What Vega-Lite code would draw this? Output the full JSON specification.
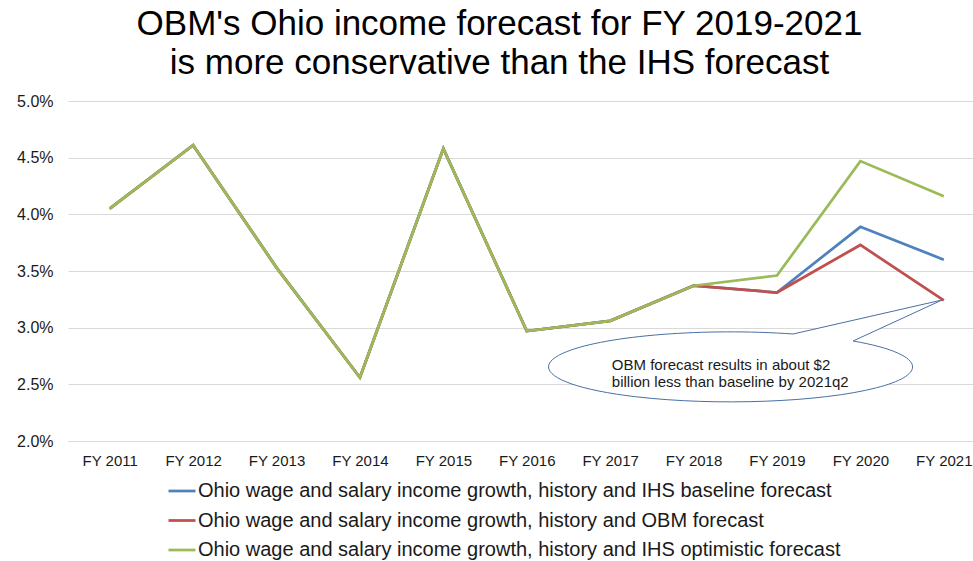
{
  "$schema": "https://vega.github.io/schema/vega-lite/v6.json",
  "autosize": {"type": "none"},
  "width": 905,
  "height": 340,
  "padding": {"left": 68, "top": 101, "right": 0, "bottom": 120},
  "background": "white",
  "config": {
    "view": {"stroke": null},
    "font": "Liberation Sans"
  },
  "title": {
    "text": ["OBM's Ohio income forecast for FY 2019-2021", "is more conservative than the IHS forecast"],
    "fontSize": 35,
    "font": "Liberation Sans",
    "fontWeight": "normal",
    "color": "#000000",
    "anchor": "middle",
    "frame": "group",
    "dx": -21,
    "dy": 42,
    "baseline": "alphabetic",
    "offset": 26,
    "lineHeight": 39
  },
  "datasets": {
    "series": [
      {"year": 2011, "series": "Ohio wage and salary income growth, history and IHS baseline forecast", "value": 0.0405},
      {"year": 2012, "series": "Ohio wage and salary income growth, history and IHS baseline forecast", "value": 0.0461},
      {"year": 2013, "series": "Ohio wage and salary income growth, history and IHS baseline forecast", "value": 0.0353},
      {"year": 2014, "series": "Ohio wage and salary income growth, history and IHS baseline forecast", "value": 0.0256},
      {"year": 2015, "series": "Ohio wage and salary income growth, history and IHS baseline forecast", "value": 0.0458},
      {"year": 2016, "series": "Ohio wage and salary income growth, history and IHS baseline forecast", "value": 0.0297},
      {"year": 2017, "series": "Ohio wage and salary income growth, history and IHS baseline forecast", "value": 0.0306},
      {"year": 2018, "series": "Ohio wage and salary income growth, history and IHS baseline forecast", "value": 0.0337},
      {"year": 2019, "series": "Ohio wage and salary income growth, history and IHS baseline forecast", "value": 0.0331},
      {"year": 2020, "series": "Ohio wage and salary income growth, history and IHS baseline forecast", "value": 0.0389},
      {"year": 2021, "series": "Ohio wage and salary income growth, history and IHS baseline forecast", "value": 0.0360},
      {"year": 2011, "series": "Ohio wage and salary income growth, history and OBM forecast", "value": 0.0405},
      {"year": 2012, "series": "Ohio wage and salary income growth, history and OBM forecast", "value": 0.0461},
      {"year": 2013, "series": "Ohio wage and salary income growth, history and OBM forecast", "value": 0.0353},
      {"year": 2014, "series": "Ohio wage and salary income growth, history and OBM forecast", "value": 0.0256},
      {"year": 2015, "series": "Ohio wage and salary income growth, history and OBM forecast", "value": 0.0458},
      {"year": 2016, "series": "Ohio wage and salary income growth, history and OBM forecast", "value": 0.0297},
      {"year": 2017, "series": "Ohio wage and salary income growth, history and OBM forecast", "value": 0.0306},
      {"year": 2018, "series": "Ohio wage and salary income growth, history and OBM forecast", "value": 0.0337},
      {"year": 2019, "series": "Ohio wage and salary income growth, history and OBM forecast", "value": 0.0331},
      {"year": 2020, "series": "Ohio wage and salary income growth, history and OBM forecast", "value": 0.0373},
      {"year": 2021, "series": "Ohio wage and salary income growth, history and OBM forecast", "value": 0.0324},
      {"year": 2011, "series": "Ohio wage and salary income growth, history and IHS optimistic forecast", "value": 0.0405},
      {"year": 2012, "series": "Ohio wage and salary income growth, history and IHS optimistic forecast", "value": 0.0461},
      {"year": 2013, "series": "Ohio wage and salary income growth, history and IHS optimistic forecast", "value": 0.0353},
      {"year": 2014, "series": "Ohio wage and salary income growth, history and IHS optimistic forecast", "value": 0.0256},
      {"year": 2015, "series": "Ohio wage and salary income growth, history and IHS optimistic forecast", "value": 0.0458},
      {"year": 2016, "series": "Ohio wage and salary income growth, history and IHS optimistic forecast", "value": 0.0297},
      {"year": 2017, "series": "Ohio wage and salary income growth, history and IHS optimistic forecast", "value": 0.0306},
      {"year": 2018, "series": "Ohio wage and salary income growth, history and IHS optimistic forecast", "value": 0.0337},
      {"year": 2019, "series": "Ohio wage and salary income growth, history and IHS optimistic forecast", "value": 0.0346},
      {"year": 2020, "series": "Ohio wage and salary income growth, history and IHS optimistic forecast", "value": 0.0447},
      {"year": 2021, "series": "Ohio wage and salary income growth, history and IHS optimistic forecast", "value": 0.0416}
    ],
    "callout": [
      {"year": 2018.45, "value": 0.02653}
    ],
    "note": [
      {"year": 2017.02, "value": 0.02671, "label": ["OBM forecast results in about $2", "billion less than baseline by 2021q2"]}
    ]
  },
  "layer": [
    {
      "data": {"name": "series"},
      "mark": {"type": "line", "strokeWidth": 2.75, "strokeJoin": "miter"},
      "encoding": {
        "x": {
          "field": "year",
          "type": "quantitative",
          "scale": {"domain": [2010.5, 2021.35], "nice": false, "zero": false},
          "axis": {
            "values": [2011, 2012, 2013, 2014, 2015, 2016, 2017, 2018, 2019, 2020, 2021],
            "labelExpr": "'FY ' + datum.value",
            "title": null,
            "grid": false,
            "ticks": false,
            "domain": true,
            "domainColor": "#d9d9d9",
            "domainWidth": 1,
            "labelFontSize": 15,
            "labelColor": "#1a1a1a",
            "labelPadding": 12,
            "labelFlush": false,
            "labelOverlap": false
          }
        },
        "y": {
          "field": "value",
          "type": "quantitative",
          "scale": {"domain": [0.02, 0.05], "nice": false, "zero": false},
          "axis": {
            "values": [0.02, 0.025, 0.03, 0.035, 0.04, 0.045, 0.05],
            "format": ".1%",
            "title": null,
            "grid": true,
            "gridColor": "#d9d9d9",
            "gridWidth": 1,
            "ticks": false,
            "domain": false,
            "labelFontSize": 16,
            "labelColor": "#1a1a1a",
            "labelPadding": 15
          }
        },
        "color": {
          "field": "series",
          "type": "nominal",
          "sort": [
            "Ohio wage and salary income growth, history and IHS baseline forecast",
            "Ohio wage and salary income growth, history and OBM forecast",
            "Ohio wage and salary income growth, history and IHS optimistic forecast"
          ],
          "scale": {
            "domain": [
              "Ohio wage and salary income growth, history and IHS baseline forecast",
              "Ohio wage and salary income growth, history and OBM forecast",
              "Ohio wage and salary income growth, history and IHS optimistic forecast"
            ],
            "range": ["#4F81BD", "#C0504D", "#9BBB59"]
          },
          "legend": {
            "title": null,
            "orient": "none",
            "legendX": 99,
            "legendY": 375,
            "direction": "vertical",
            "symbolType": "stroke",
            "symbolSize": 729,
            "symbolStrokeWidth": 2.75,
            "labelFontSize": 20,
            "labelColor": "#1a1a1a",
            "labelOffset": 1,
            "rowPadding": 4.5,
            "padding": 0,
            "labelLimit": 900
          }
        }
      }
    },
    {
      "data": {"name": "callout"},
      "mark": {
        "type": "point",
        "shape": "M 0.3407 -0.1813 L 1.1593 -0.3681 L 0.6703 -0.1429 A 1 0.1923 0 1 1 0.3407 -0.1813 Z",
        "size": 132496,
        "filled": true,
        "fill": "white",
        "stroke": "#4a6fa5",
        "strokeWidth": 1,
        "opacity": 1,
        "fillOpacity": 1
      },
      "encoding": {
        "x": {"field": "year", "type": "quantitative"},
        "y": {"field": "value", "type": "quantitative"}
      }
    },
    {
      "data": {"name": "note"},
      "mark": {
        "type": "text",
        "align": "left",
        "baseline": "middle",
        "fontSize": 15,
        "lineHeight": 17.5,
        "color": "#1a1a1a"
      },
      "encoding": {
        "x": {"field": "year", "type": "quantitative"},
        "y": {"field": "value", "type": "quantitative"},
        "text": {"field": "label"}
      }
    }
  ]
}
